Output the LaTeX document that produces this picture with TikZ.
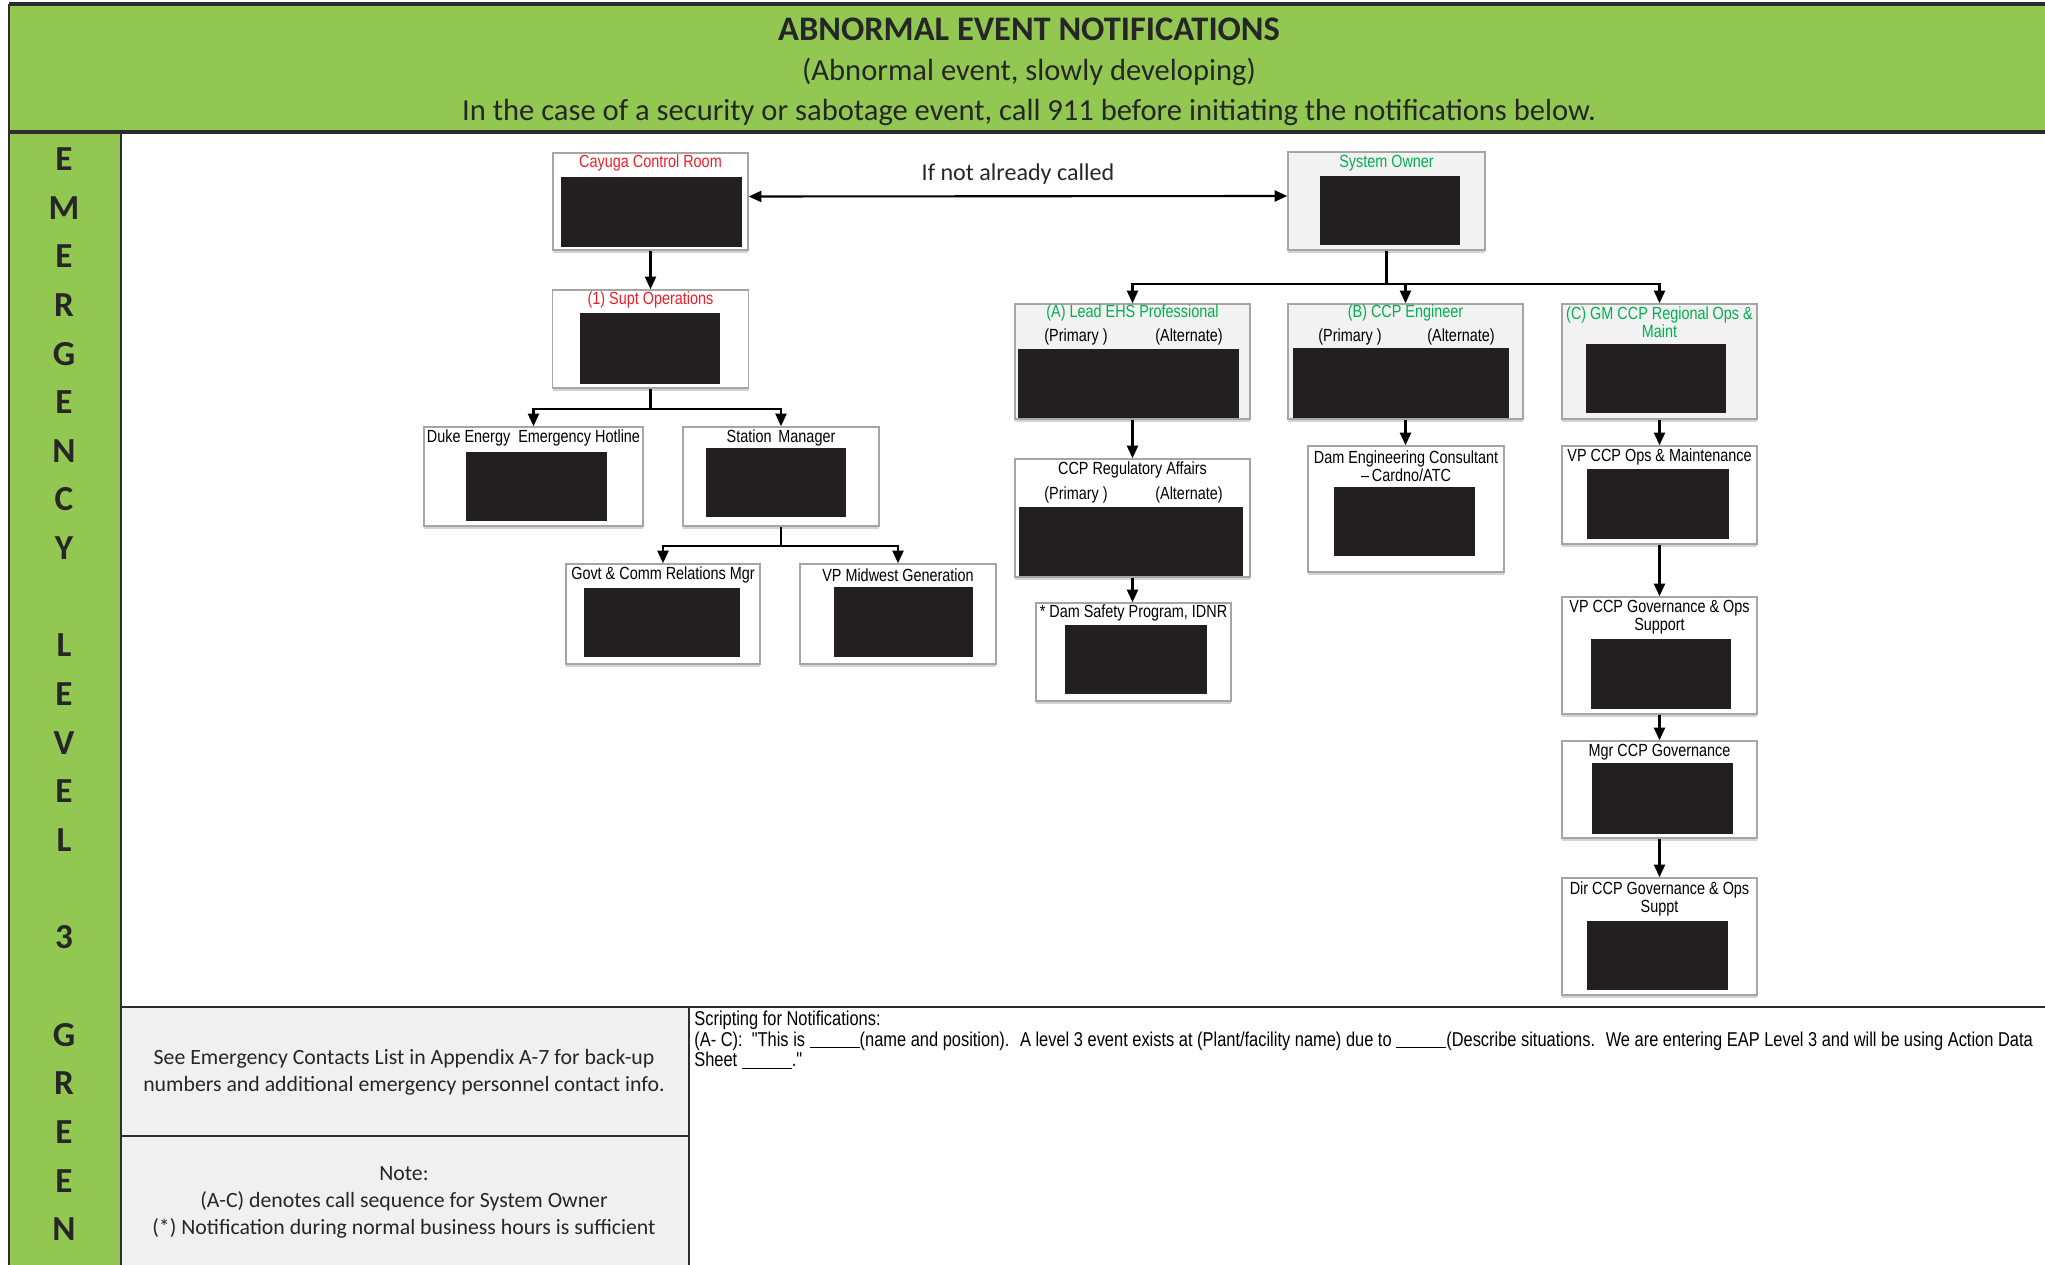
\documentclass[tikz,border=0pt]{standalone}
\usepackage{fontspec}
\setmainfont{Carlito}
\newfontfamily\narrowsf[FakeStretch=0.82]{Liberation Sans}
\usepackage{tikz}
\usetikzlibrary{arrows.meta, shadows, positioning}
\definecolor{HdrGreen}{RGB}{146,200,82}
\definecolor{HdrInk}{RGB}{38,38,38}
\definecolor{FrameInk}{RGB}{45,45,45}
\definecolor{CardEdge}{RGB}{165,165,165}
\definecolor{CardGray}{RGB}{242,242,242}
\definecolor{NoteGray}{RGB}{240,240,240}
\definecolor{Redact}{RGB}{35,31,32}
\definecolor{CallRed}{RGB}{240,30,40}
\definecolor{OwnGreen}{RGB}{0,176,80}
\newcommand{\fillin}{\rule[-1pt]{10mm}{0.5pt}}

\begin{document}
\begin{tikzpicture}[x=0.2mm, y=-0.2mm,
    card/.style 2 args={rectangle, draw=CardEdge, fill=white, line width=0.9pt,
                inner sep=0pt, minimum width=#1*0.2mm, minimum height=#2*0.2mm,
                drop shadow={shadow xshift=0pt, shadow yshift=-1.5pt, opacity=0.35}},
    cardg/.style 2 args={card={#1}{#2}, fill=CardGray},
    ttl/.style={font=\narrowsf\fontsize{10}{10.5}\selectfont, inner sep=0pt,
                align=center, text=black},
    redact/.style={fill=Redact},
    arr/.style={-{Triangle[length=2.5mm, width=2.2mm]}, line width=1.2pt},
    frame/.style={draw=FrameInk},
    vlet/.style={font=\fontsize{20}{20}\selectfont\bfseries, text=HdrInk, inner sep=0pt},
    notetxt/.style={font=\fontsize{12.4}{15.3}\selectfont, align=center, text=HdrInk}
  ]
  \useasboundingbox (0,0) rectangle (2045,1265);

  % frame and bands
  \fill[HdrGreen] (9,4) rectangle (2045,132);
  \fill[HdrGreen] (9,132) rectangle (121,1265);
  \fill[NoteGray] (121,1007) rectangle (689,1265);
  \draw[frame, line width=0.7mm] (9,4) -- (2045,4);
  \draw[frame, line width=0.7mm] (9,132) -- (2045,132);
  \draw[frame, line width=0.5mm] (9,4) -- (9,1265);
  \draw[frame, line width=0.4mm] (121,132) -- (121,1265);
  \draw[frame, line width=0.5mm] (121,1007) -- (2045,1007);
  \draw[frame, line width=0.4mm] (689,1007) -- (689,1265);
  \draw[frame, line width=0.4mm] (121,1136) -- (689,1136);

  % header
  \node[font=\fontsize{19.6}{22}\selectfont\bfseries, text=HdrInk] (title) at (1029,29) {ABNORMAL EVENT NOTIFICATIONS};
  \node[font=\fontsize{17.4}{20}\selectfont, text=HdrInk] (subtitle) at (1029,72) {(Abnormal event, slowly developing)};
  \node[font=\fontsize{17.4}{20}\selectfont, text=HdrInk] (warn) at (1029,113) {In the case of a security or sabotage event, call 911 before initiating the notifications below.};

  % side label
  \foreach \ch/\i in {E/0,M/1,E/2,R/3,G/4,E/5,N/6,C/7,Y/8,L/10,E/11,V/12,E/13,L/14,3/16,G/18,R/19,E/20,E/21,N/22}
    \node[vlet] (lv\i) at (64,{159+48.65*\i}) {\ch};

  % plant side
  \node[card={195}{97}] (cayuga) at (650.5,201.5) {};
  \fill[redact] (561,177) rectangle (742,247);
  \node[ttl, text=CallRed] (cayugat) at (650.5,163) {Cayuga Control Room};

  \node[card={196}{98}] (supt) at (650.5,339) {};
  \fill[redact] (580,313) rectangle (720,384);
  \node[ttl, text=CallRed] (suptt) at (650.5,300) {(1) Supt Operations};

  \node[card={219}{99}] (duke) at (533.5,476.5) {};
  \fill[redact] (466,452) rectangle (607,521);
  \node[ttl] (duket) at (533.5,438) {Duke Energy \ Emergency Hotline};

  \node[card={196}{99}] (stmgr) at (781,476.5) {};
  \fill[redact] (706,448) rectangle (846,517);
  \node[ttl] (stmgrt) at (781,438) {Station \,Manager};

  \node[card={194}{100}] (govt) at (663,614) {};
  \fill[redact] (584,588) rectangle (740,657);
  \node[ttl] (govtt) at (663,575) {Govt \& Comm Relations Mgr};

  \node[card={196}{100}] (vpmid) at (898,614) {};
  \fill[redact] (834,587) rectangle (973,657);
  \node[ttl] (vpmidt) at (898,575) {VP Midwest Generation};

  % owner side
  \node[cardg={197}{98}] (sysown) at (1386.5,201) {};
  \fill[redact] (1320,176) rectangle (1460,245);
  \node[ttl, text=OwnGreen] (sysownt) at (1386.5,163) {System Owner};

  \node[cardg={235}{115}] (leadehs) at (1132.5,361.5) {};
  \fill[redact] (1018,349) rectangle (1239,418);
  \node[ttl, text=OwnGreen] (leadehst) at (1132.5,313) {(A) Lead EHS Professional};
  \node[ttl] (leadehsp) at (1076,337) {(Primary )};
  \node[ttl] (leadehsa) at (1189,337) {(Alternate)};

  \node[cardg={235}{115}] (ccpeng) at (1405.5,361.5) {};
  \fill[redact] (1293,348) rectangle (1509,418);
  \node[ttl, text=OwnGreen] (ccpengt) at (1405.5,313) {(B) CCP Engineer};
  \node[ttl] (ccpengp) at (1350,337) {(Primary )};
  \node[ttl] (ccpenga) at (1461,337) {(Alternate)};

  \node[cardg={195}{115}] (gmccp) at (1659.5,361.5) {};
  \fill[redact] (1586,344) rectangle (1726,413);
  \node[ttl, text=OwnGreen] (gmccpt) at (1659.5,322) {(C) GM CCP Regional Ops \&\\Maint};

  \node[card={235}{118}] (ccpreg) at (1132.5,518) {};
  \fill[redact] (1019,507) rectangle (1243,576);
  \node[ttl] (ccpregt) at (1132.5,470) {CCP Regulatory Affairs};
  \node[ttl] (ccpregp) at (1076,495) {(Primary )};
  \node[ttl] (ccprega) at (1189,495) {(Alternate)};

  \node[card={195}{98}] (damsafe) at (1133.5,652) {};
  \fill[redact] (1065,625) rectangle (1207,694);
  \node[ttl] (damsafet) at (1133.5,613) {* Dam Safety Program, IDNR};

  \node[card={196}{126}] (dameng) at (1406,509) {};
  \fill[redact] (1334,487) rectangle (1475,556);
  \node[ttl] (damengt) at (1406,466) {Dam Engineering Consultant\\\textendash\,Cardno/ATC};

  \node[card={195}{98}] (vpops) at (1659.5,495) {};
  \fill[redact] (1587,469) rectangle (1729,539);
  \node[ttl] (vpopst) at (1659.5,457) {VP CCP Ops \& Maintenance};

  \node[card={195}{117}] (vpgov) at (1659.5,655.5) {};
  \fill[redact] (1591,639) rectangle (1731,709);
  \node[ttl] (vpgovt) at (1659.5,617) {VP CCP Governance \& Ops\\Support};

  \node[card={195}{97}] (mgrgov) at (1659.5,789.5) {};
  \fill[redact] (1592,763) rectangle (1733,834);
  \node[ttl] (mgrgovt) at (1659.5,752) {Mgr CCP Governance};

  \node[card={195}{117}] (dirgov) at (1659.5,936.5) {};
  \fill[redact] (1587,921) rectangle (1728,990);
  \node[ttl] (dirgovt) at (1659.5,899) {Dir CCP Governance \& Ops\\Suppt};

  % connectors
  \draw[arr, {Triangle[length=2.5mm, width=2.2mm]}-{Triangle[length=2.5mm, width=2.2mm]}]
    ([yshift=1mm]cayuga.east) -- ([yshift=1mm]sysown.west);
  \node[font=\fontsize{13.7}{15}\selectfont, text=HdrInk] (ifcalled) at (1018,174) {If not already called};

  \draw[arr] (cayuga) -- (supt);
  \draw[line width=1.2pt] (supt.south) -- ++(0,20) coordinate (suptbus);
  \draw[arr] (suptbus) -| (duke.north);
  \draw[arr] (suptbus) -| (stmgr.north);
  \draw[line width=1.2pt] (stmgr.south) -- ++(0,19) coordinate (mgrbus);
  \draw[arr] (mgrbus) -| (govt.north);
  \draw[arr] (mgrbus) -| (vpmid.north);

  \draw[line width=1.2pt] (sysown.south) -- ++(0,33) coordinate (ownbus);
  \draw[arr] (ownbus) -| (leadehs.north);
  \draw[arr] (ownbus) -| (ccpeng.north);
  \draw[arr] (ownbus) -| (gmccp.north);
  \draw[arr] (leadehs) -- (ccpreg);
  \draw[arr] (ccpreg.south) -- (ccpreg.south |- damsafe.north);
  \draw[arr] (ccpeng.south) -- (ccpeng.south |- dameng.north);
  \draw[arr] (gmccp) -- (vpops);
  \draw[arr] (vpops) -- (vpgov);
  \draw[arr] (vpgov) -- (mgrgov);
  \draw[arr] (mgrgov) -- (dirgov);

  % notes
  \node[notetxt] (contacts) at (404,1072) {See Emergency Contacts List in Appendix A-7 for back-up\\numbers and additional emergency personnel contact info.};
  \node[notetxt] (note) at (404,1202) {Note:\\(A-C) denotes call sequence for System Owner\\(*) Notification during normal business hours is sufficient};
  \node[font=\narrowsf\fontsize{11.4}{11.7}\selectfont, align=left, anchor=north west, inner sep=0pt] (script) at (694,1011)
    {Scripting for Notifications:\\(A- C): \ "This is \fillin(name and position). \ A level 3 event exists at (Plant/facility name) due to \fillin(Describe situations. \ We are entering EAP Level 3 and will be using Action Data\\Sheet \fillin."};
\end{tikzpicture}
\end{document}
